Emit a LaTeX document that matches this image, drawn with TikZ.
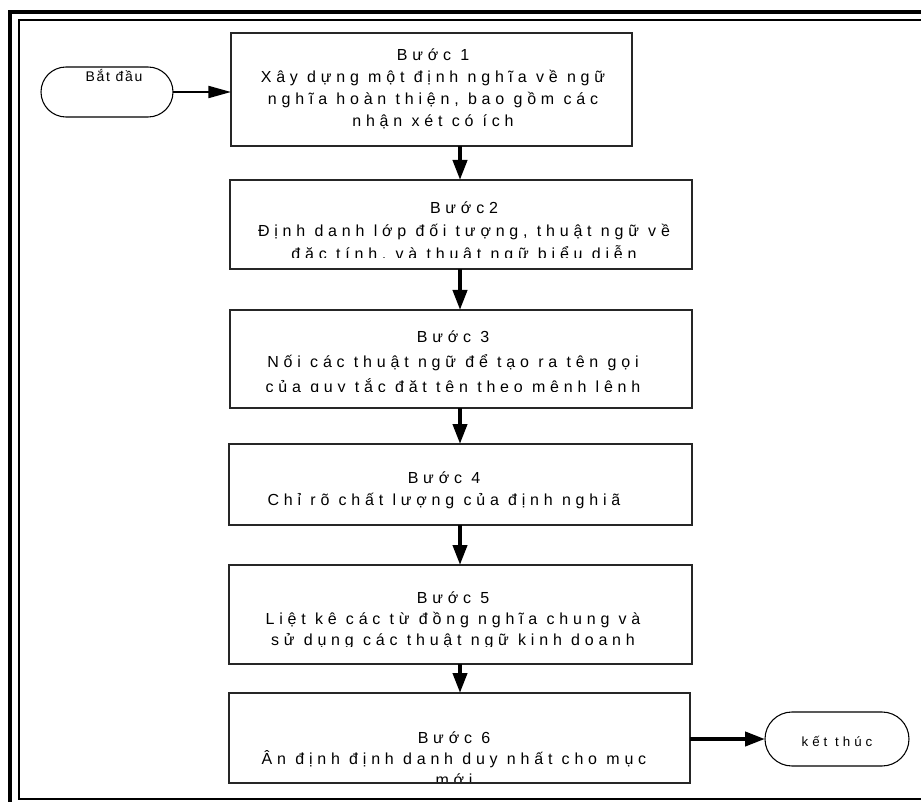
\documentclass[tikz,border=0pt]{standalone}
\usepackage{fontspec}
\setmainfont{Liberation Sans}
\newfontfamily\boxfont[LetterSpace=30]{Liberation Sans}
\newfontfamily\termfont[LetterSpace=12]{Liberation Sans}
\usetikzlibrary{arrows.meta,shapes.misc}

\tikzset{
  stepbox/.style={draw=black!85, line width=1.1pt, inner sep=0pt, outer sep=0pt},
  steptext/.style={align=center, inner sep=0pt, anchor=base, text=black},
  terminal/.style={draw=black, line width=0.8pt, rounded rectangle, inner sep=0pt, outer sep=0pt},
  flow/.style={line width=3pt, -{Triangle[length=15pt,width=10.5pt]}},
  thinflow/.style={line width=1.5pt, -{Triangle[length=17pt,width=9pt]}},
}

\begin{document}
\begin{tikzpicture}[x=0.75pt,y=-0.75pt]
\useasboundingbox (0,0) rectangle (921,802);
\fill[white] (0,0) rectangle (921,802);

% double frame
\draw[line width=3.4pt] (10,802) -- (10,12) -- (921,12);
\draw[line width=1.5pt] (921,20) -- (19,20) -- (19,799);
\draw[line width=2.2pt] (18,799) -- (921,799);

% terminals
\node[terminal, minimum width=99pt, minimum height=37.5pt] (start) at (107,92) {};
\node[terminal, minimum width=108pt, minimum height=40.5pt] (end) at (837,739) {};
\node[inner sep=0pt, anchor=base, font=\termfont\fontsize{10.5}{12}\selectfont] (startlbl) at (114,82) {Bắt đầu};
\node[inner sep=0pt, anchor=base, font=\boxfont\fontsize{10}{12}\selectfont] (endlbl) at (837,746) {kết thúc};

% step boxes
\node[stepbox, minimum width=300.75pt, minimum height=84.75pt] (b1) at (431.5,89.5) {};
\node[stepbox, minimum width=346.5pt, minimum height=66.75pt] (b2) at (461,224.5) {};
\node[stepbox, minimum width=346.5pt, minimum height=73.5pt] (b3) at (461,359) {};
\node[stepbox, minimum width=347.25pt, minimum height=60.75pt] (b4) at (460.5,484.5) {};
\node[stepbox, minimum width=347.25pt, minimum height=74.25pt] (b5) at (460.5,614.5) {};
\node[stepbox, minimum width=345.75pt, minimum height=67.5pt] (b6) at (459.5,738) {};

% step texts (each node sits on the baseline of its last line)
\node[steptext, font=\boxfont\fontsize{12}{16.5}\selectfont] (t1) at (433,127)
  {Bước 1\\Xây dựng một định nghĩa về ngữ\\nghĩa hoàn thiện, bao gồm các\\nhận xét có ích};
\begin{scope}
  \clip (220,170) rectangle (700,258);
  \node[steptext, font=\boxfont\fontsize{12}{17.6}\selectfont] (t2) at (464,260)
    {Bước2\\Định danh lớp đối tượng, thuật ngữ về\\đặc tính, và thuật ngữ biểu diễn};
\end{scope}
\begin{scope}
  \clip (220,300) rectangle (700,391.5);
  \node[steptext, font=\boxfont\fontsize{12}{18.4}\selectfont] (t3) at (453,392)
    {Bước 3\\Nối các thuật ngữ để tạo ra tên gọi\\của quy tắc đặt tên theo mệnh lệnh};
\end{scope}
\node[steptext, font=\boxfont\fontsize{12}{16.5}\selectfont] (t4) at (444,505)
  {Bước 4\\Chỉ rõ chất lượng của định nghiã};
\begin{scope}
  \clip (220,560) rectangle (700,646);
  \node[steptext, font=\boxfont\fontsize{12}{15.75}\selectfont] (t5) at (453,645)
    {Bước 5\\Liệt kê các từ đồng nghĩa chung và\\sử dụng các thuật ngữ kinh doanh};
\end{scope}
\begin{scope}
  \clip (220,690) rectangle (700,781);
  \node[steptext, font=\boxfont\fontsize{12}{15.75}\selectfont] (t6) at (454,785)
    {Bước 6\\Ân định định danh duy nhất cho mục\\mới};
\end{scope}

% connectors
\coordinate (axis) at (460,0);
\draw[thinflow] (start.east) -- (start.east -| b1.west);
\draw[flow] (b1.south -| axis) -- (b2.north -| axis);
\draw[flow] (b2.south -| axis) -- (b3.north -| axis);
\draw[flow] (b3.south -| axis) -- (b4.north -| axis);
\draw[flow] (b4.south -| axis) -- (b5.north -| axis);
\draw[flow] (b5.south -| axis) -- (b6.north -| axis);
\draw[flow] (b6.east |- end.west) -- (end.west);
\end{tikzpicture}
\end{document}
